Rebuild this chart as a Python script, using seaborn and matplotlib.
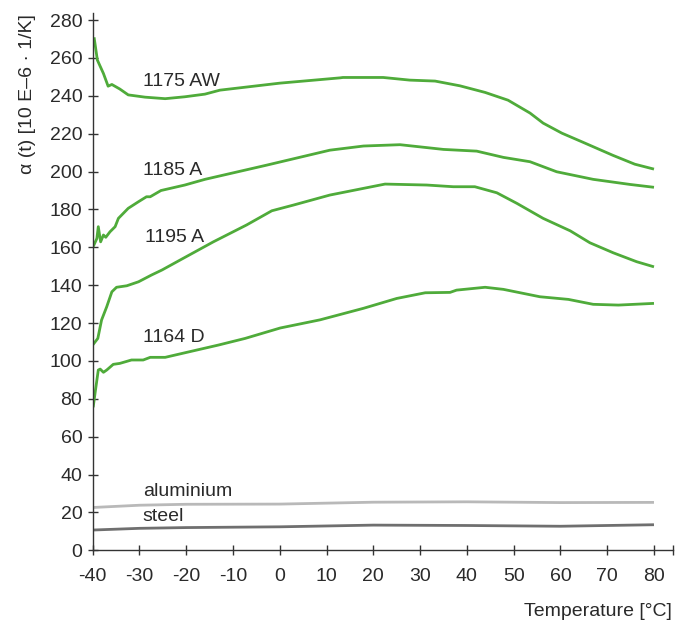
import matplotlib
matplotlib.use("Agg")
import matplotlib.pyplot as plt
import seaborn as sns
import pandas as pd

# ---- data ----
t_1175 = [-39.7, -39.0, -37.7, -36.7, -35.9, -34.2, -32.4, -28.8, -24.5, -20.3, -16.0, -12.8, 0.0, 12.9, 13.5,
          22.1, 27.8, 33.2, 38.5, 43.9, 48.8, 53.5, 56.3, 60.3, 64.8, 71.2, 75.9, 80.0]
v_1175 = [270.9, 258.9, 251.8, 245.1, 246.0, 243.6, 240.5, 239.3, 238.5, 239.5, 240.9, 243.0, 246.7, 249.5, 249.7,
          249.7, 248.3, 247.8, 245.3, 241.8, 237.7, 230.9, 225.6, 220.3, 215.5, 208.6, 203.9, 201.3]

t_1185 = [-39.9, -39.1, -38.8, -38.3, -37.7, -37.2, -36.3, -35.2, -34.5, -32.4, -30.2, -28.5, -27.7, -25.4,
          -20.3, -16.0, -2.8, 10.7, 17.9, 25.7, 35.0, 42.1, 47.8, 53.5, 59.2, 67.0, 74.9, 80.0]
v_1185 = [160.3, 164.7, 170.9, 162.9, 166.5, 165.3, 168.2, 170.9, 175.3, 180.6, 184.1, 186.7, 186.7, 190.0,
          192.9, 195.9, 203.4, 211.3, 213.5, 214.2, 211.7, 210.8, 207.5, 205.2, 199.9, 195.9, 193.2, 191.7]

t_1195 = [-40.0, -38.9, -38.1, -37.0, -35.9, -34.9, -32.7, -30.2, -27.4, -25.2, -21.3, -14.2, -7.1, -1.7, 2.9,
          10.7, 22.5, 31.4, 37.1, 41.7, 46.4, 50.7, 56.3, 62.1, 66.3, 71.3, 76.3, 80.0]
v_1195 = [108.4, 111.9, 121.6, 128.6, 136.5, 138.9, 139.7, 141.8, 145.4, 148.0, 153.3, 162.9, 171.8, 179.3, 182.3,
          187.6, 193.4, 192.9, 192.0, 192.0, 188.8, 183.2, 175.3, 168.7, 162.4, 157.1, 152.4, 149.7]

t_1164 = [-39.9, -39.4, -38.8, -38.4, -37.7, -37.0, -35.6, -34.2, -31.7, -29.2, -27.7, -24.5, -20.3, -13.1, -7.4,
          0.1, 8.6, 17.9, 25.0, 31.1, 36.4, 37.8, 43.9, 47.8, 55.6, 61.7, 67.0, 72.4, 80.0]
v_1164 = [75.5, 84.6, 95.2, 95.7, 94.0, 95.2, 98.2, 98.7, 100.5, 100.5, 101.9, 101.9, 104.3, 108.4, 111.9,
          117.4, 121.7, 127.8, 133.0, 136.0, 136.2, 137.4, 138.9, 137.8, 133.9, 132.5, 129.9, 129.5, 130.4]

t_alu = [-40, -30, -20, 0, 20, 40, 60, 80]
v_alu = [22.6, 23.8, 24.3, 24.4, 25.4, 25.6, 25.2, 25.3]

t_steel = [-40, -30, -20, 0, 20, 40, 60, 80]
v_steel = [10.7, 11.6, 12.0, 12.4, 13.3, 13.1, 12.7, 13.5]

series_names = ["1175 AW", "1185 A", "1195 A", "1164 D", "aluminium", "steel"]
label_pos_t = [-29.3, -29.3, -28.8, -29.3, -29.3, -29.3]
label_pos_v = [247.8, 200.8, 165.4, 112.2, 30.8, 17.6]

x_ticks = list(range(-40, 81, 10))
y_ticks = list(range(0, 281, 20))

# ---- style ----
sns.set_theme(style="white")
plt.rcParams["font.family"] = ["Liberation Sans", "DejaVu Sans"]

GREEN = "#4fab3a"
colors = [GREEN, GREEN, GREEN, GREEN, "#b9b9b9", "#6f6f6f"]
txt_col = "#2a2a2a"
FS = 14

fig = plt.figure(figsize=(6.86, 6.23), dpi=100)
ax = fig.add_axes([0.1351, 0.1167, 0.9806 - 0.1351, 0.8629])

data_t = [t_1175, t_1185, t_1195, t_1164, t_alu, t_steel]
data_v = [v_1175, v_1185, v_1195, v_1164, v_alu, v_steel]

for name, tt, vv, c in zip(series_names, data_t, data_v, colors):
    df = pd.DataFrame({"t": tt, "v": vv})
    sns.lineplot(data=df, x="t", y="v", ax=ax, color=c, linewidth=2.0,
                 sort=False, estimator=None, solid_capstyle="butt")

for name, lt, lv in zip(series_names, label_pos_t, label_pos_v):
    ax.text(lt, lv, name, fontsize=FS, color=txt_col, ha="left", va="center")

ax.set_xlim(-40, 84)
ax.set_ylim(0, 283.9)
ax.set_xticks(x_ticks)
ax.set_yticks(y_ticks)
ax.set_xticks([84], minor=True)
ax.set_xticklabels([str(v) for v in x_ticks])
ax.set_yticklabels([str(v) for v in y_ticks])

for s in ["top", "right"]:
    ax.spines[s].set_visible(False)
for s in ["left", "bottom"]:
    ax.spines[s].set_color("#333333")
    ax.spines[s].set_linewidth(1.0)

ax.tick_params(axis="both", which="both", direction="inout", length=7, width=1.0,
               color="#333333", labelsize=FS, labelcolor=txt_col)
ax.tick_params(axis="x", which="both", bottom=True, pad=9)
ax.tick_params(axis="y", which="both", left=True, pad=4)
ax.tick_params(axis="x", which="minor", length=7)

ax.set_xlabel("")
ax.set_ylabel("")

fig.text(28 / 686, 1 - 14 / 623, "α (t) [10 E–6 · 1/K]", rotation=90, ha="center", va="top",
         fontsize=FS, color=txt_col)
fig.text(672 / 686, 1 - 612 / 623, "Temperature [°C]", ha="right", va="center",
         fontsize=FS, color=txt_col)

fig.savefig("out.png", dpi=100)
